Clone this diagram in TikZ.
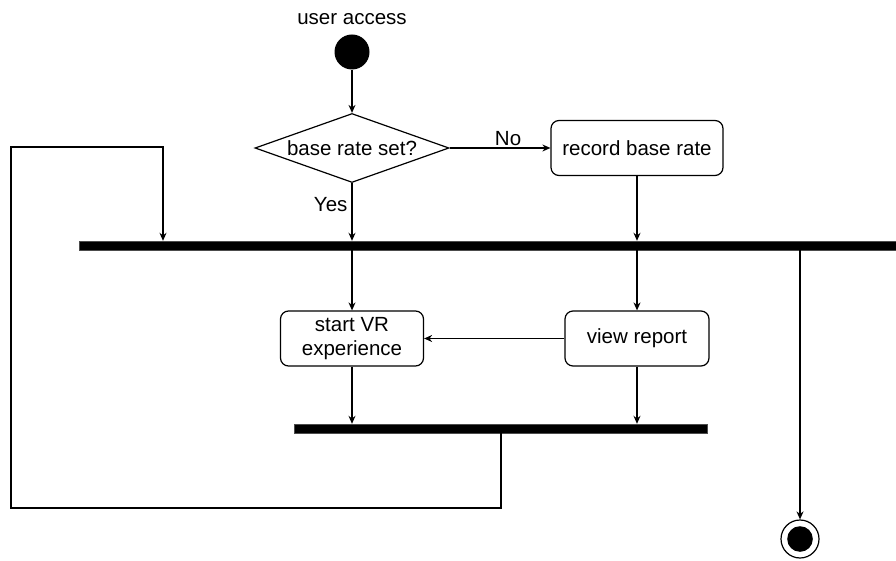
\documentclass[tikz,border=0pt]{standalone}
\usepackage{fontspec}
\setmainfont{Liberation Sans}
\usetikzlibrary{positioning,arrows.meta,shapes.geometric}
\tikzset{
  initnode/.style={circle, fill=black, minimum size=35pt, inner sep=0pt},
  endnode/.style ={circle, draw=black, line width=1.2pt, fill=white, minimum size=38pt,
                   inner sep=0pt,
                   path picture={\fill[black] (path picture bounding box.center) circle (12.8pt);}},
  act/.style     ={draw=black, rounded corners=8pt, line width=1.2pt, align=center, inner sep=0pt},
  choice/.style  ={diamond, aspect=2.81, draw=black, line width=1.2pt, inner sep=0pt,
                   minimum width=194pt, minimum height=69pt},
  syncbar/.style ={fill=black, draw=black!70, inner sep=0pt, minimum height=9pt},
}

\begin{document}
\begin{tikzpicture}[x=1pt,y=1pt,font=\fontsize{20.5}{24}\selectfont,
      flow/.style={-{Stealth[length=8pt,width=7pt]},line width=1.2pt}]
    \useasboundingbox (0,0) rectangle (896,560);
    \node[initnode] (start) at (352,508) {};
    \node (title) at (352,541) {user access};
    \node[choice] (dec) at (352,412) {base rate set?};
    \node[act,minimum width=172pt,minimum height=55pt] (rec) at (637,412) {record base rate};
    \node[syncbar,minimum width=817pt] (fork) at (487.5,314.5) {};
    \node[act,minimum width=143pt,minimum height=55pt] (vr) at (352,221.5) {start VR\\experience};
    \node[act,minimum width=144pt,minimum height=55pt] (report) at (637,221.5) {view report};
    \node[syncbar,minimum width=413pt] (join) at (500.5,131.5) {};
    \node[endnode] (stop) at (800,21) {};
    \coordinate (loopdown) at (501,52);
    \coordinate (loopup) at (11,413);
    \coordinate (loopin) at (163,413);
    \draw[flow] (start)--(dec);
    \draw[flow] (dec.east)-- node[above,pos=.58,inner sep=2pt]{No} (rec.west);
    \draw[flow] (dec.south)-- node[left,pos=.37,inner sep=4pt]{Yes} (dec.south |- fork.north);
    \draw[flow] (rec.south)--(rec.south |- fork.north);
    \draw[flow] (join.south -| loopdown)--(loopdown) -| (loopup)--(loopin)--(loopin |- fork.north);
    \draw[flow] (fork.south -| vr)--(vr.north);
    \draw[flow] (fork.south -| report)--(report.north);
    \draw[flow] (report.west)--(vr.east);
    \draw[flow] (vr.south)--(vr.south |- join.north);
    \draw[flow] (report.south)--(report.south |- join.north);
    \draw[flow] (fork.south -| stop)--(stop.north);
  \end{tikzpicture}
\end{document}
